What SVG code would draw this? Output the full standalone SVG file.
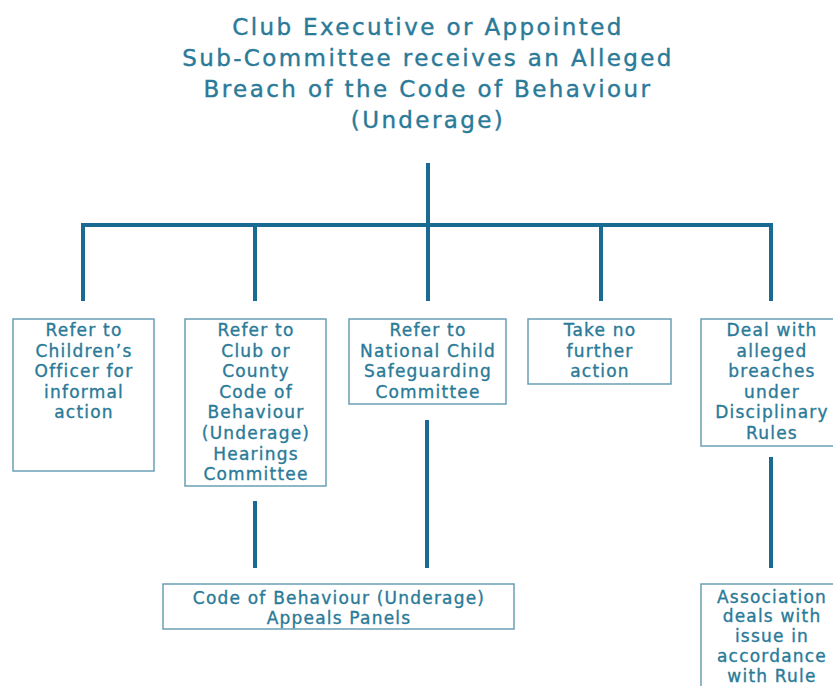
<svg xmlns="http://www.w3.org/2000/svg" width="833" height="686" viewBox="0 0 833 686">
<style>
.title{font-family:"DejaVu Sans",sans-serif;font-size:23px;fill:#2a7a98;stroke:#2a7a98;stroke-width:0.4;text-anchor:middle;letter-spacing:2.4px}
.t{font-family:"DejaVu Sans",sans-serif;font-size:17px;fill:#2a7a98;stroke:#2a7a98;stroke-width:0.35;text-anchor:middle;letter-spacing:1.2px}
.box{fill:#ffffff;stroke:#6a9fb5;stroke-width:1.5}
.conn{stroke:#1b6a92;stroke-width:4;fill:none}
</style>
<rect width="833" height="686" fill="#ffffff"/>
<g id="title">
<text class="title" x="428" y="35">Club Executive or Appointed</text>
<text class="title" x="428" y="66">Sub-Committee receives an Alleged</text>
<text class="title" x="428" y="97">Breach of the Code of Behaviour</text>
<text class="title" x="428" y="128">(Underage)</text>
</g>
<g id="connectors">
<line class="conn" x1="428" y1="163" x2="428" y2="301"/>
<polyline class="conn" points="83,301 83,225 771,225 771,301"/>
<line class="conn" x1="255" y1="225" x2="255" y2="301"/>
<line class="conn" x1="601" y1="225" x2="601" y2="301"/>
<line class="conn" x1="255" y1="501" x2="255" y2="568"/>
<line class="conn" x1="427" y1="420" x2="427" y2="568"/>
<line class="conn" x1="771" y1="457" x2="771" y2="568"/>
</g>
<g id="n1">
<rect class="box" x="13" y="319" width="141" height="152"/>
<text class="t" x="84" y="336">Refer to</text>
<text class="t" x="84" y="356.6">Children’s</text>
<text class="t" x="84" y="377.2">Officer for</text>
<text class="t" x="84" y="397.8">informal</text>
<text class="t" x="84" y="418.4">action</text>
</g>
<g id="n2">
<rect class="box" x="185" y="319" width="141" height="167"/>
<text class="t" x="256" y="336">Refer to</text>
<text class="t" x="256" y="356.6">Club or</text>
<text class="t" x="256" y="377.2">County</text>
<text class="t" x="256" y="397.8">Code of</text>
<text class="t" x="256" y="418.4">Behaviour</text>
<text class="t" x="256" y="439">(Underage)</text>
<text class="t" x="256" y="459.6">Hearings</text>
<text class="t" x="256" y="480.2">Committee</text>
</g>
<g id="n3">
<rect class="box" x="349" y="319" width="157" height="85"/>
<text class="t" x="428" y="336">Refer to</text>
<text class="t" x="428" y="356.6">National Child</text>
<text class="t" x="428" y="377.2">Safeguarding</text>
<text class="t" x="428" y="397.8">Committee</text>
</g>
<g id="n4">
<rect class="box" x="528" y="319" width="143" height="65"/>
<text class="t" x="600" y="336">Take no</text>
<text class="t" x="600" y="356.6">further</text>
<text class="t" x="600" y="377.2">action</text>
</g>
<g id="n5">
<rect class="box" x="701" y="319" width="141" height="127"/>
<text class="t" x="772" y="336">Deal with</text>
<text class="t" x="772" y="356.6">alleged</text>
<text class="t" x="772" y="377.2">breaches</text>
<text class="t" x="772" y="397.8">under</text>
<text class="t" x="772" y="418.4">Disciplinary</text>
<text class="t" x="772" y="439">Rules</text>
</g>
<g id="n6">
<rect class="box" x="163" y="584" width="351" height="45"/>
<text class="t" x="339" y="604">Code of Behaviour (Underage)</text>
<text class="t" x="339" y="624.4">Appeals Panels</text>
</g>
<g id="n7">
<rect class="box" x="701" y="584" width="141" height="120"/>
<text class="t" x="772" y="602.5">Association</text>
<text class="t" x="772" y="622.3">deals with</text>
<text class="t" x="772" y="642.1">issue in</text>
<text class="t" x="772" y="661.9">accordance</text>
<text class="t" x="772" y="681.7">with Rule</text>
</g>
</svg>
